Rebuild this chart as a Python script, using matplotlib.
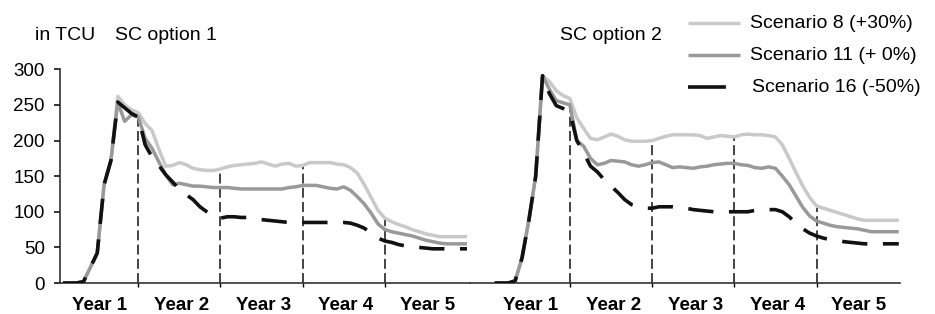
import matplotlib
matplotlib.use("Agg")
import matplotlib.pyplot as plt
from matplotlib.lines import Line2D
import numpy as np

plt.rcParams['font.family'] = ['Liberation Sans', 'DejaVu Sans']

months = list(range(1, 61))
year_labels = ["Year 1", "Year 2", "Year 3", "Year 4", "Year 5"]
y_ticks = [0, 50, 100, 150, 200, 250, 300]
series_names = ["Scenario 8 (+30%)", "Scenario 11 (+ 0%)", "Scenario 16 (-50%)"]
panel_titles = ["SC option 1", "SC option 2"]
unit_label = "in TCU"

left_s8 = [0, 0, 0, 2, 22, 42, 138, 172, 262, 250,
           243, 239, 224, 214, 188, 164, 165, 169, 166, 161,
           159, 158, 158, 160, 163, 165, 166, 167, 168, 170,
           167, 164, 167, 168, 164, 165, 169, 169, 169, 169,
           167, 166, 162, 154, 138, 120, 102, 91, 86, 82,
           79, 75, 72, 69, 67, 65, 65, 65, 65, 65]
left_s11 = [0, 0, 0, 2, 22, 42, 138, 172, 254, 227,
            236, 233, 203, 189, 170, 152, 138, 140, 138, 136,
            136, 135, 134, 134, 134, 133, 132, 132, 132, 132,
            132, 132, 132, 134, 135, 137, 137, 137, 135, 133,
            132, 135, 130, 121, 111, 98, 83, 75, 72, 70,
            68, 66, 63, 60, 58, 56, 55, 55, 55, 55]
left_s16 = [0, 0, 0, 2, 22, 42, 138, 172, 254, 246,
            238, 233, 194, 177, 165, 152, 142, 131, 124, 117,
            107, 100, 93, 91, 93, 93, 92, 92, 91, 89,
            88, 87, 86, 85, 85, 85, 85, 85, 85, 85,
            85, 85, 84, 81, 77, 70, 63, 59, 57, 54,
            52, 51, 50, 49, 48, 48, 48, 48, 48, 48]

right_s8 = [0, 0, 0, 3, 35, 88, 150, 291, 283, 270,
            263, 259, 232, 217, 203, 201, 205, 209, 206, 201,
            199, 199, 199, 200, 203, 206, 208, 208, 208, 208,
            207, 203, 205, 207, 206, 205, 208, 209, 208, 208,
            207, 205, 194, 175, 155, 136, 120, 108, 105, 102,
            99, 96, 93, 90, 88, 88, 88, 88, 88, 88]
right_s11 = [0, 0, 0, 3, 35, 88, 150, 291, 272, 256,
             253, 250, 200, 192, 175, 166, 168, 172, 171, 170,
             166, 164, 166, 169, 170, 166, 162, 163, 162, 161,
             163, 164, 166, 167, 168, 168, 166, 165, 162, 161,
             163, 161, 150, 138, 122, 106, 94, 87, 84, 81,
             79, 78, 77, 76, 74, 72, 72, 72, 72, 72]
right_s16 = [0, 0, 0, 3, 35, 88, 150, 291, 266, 249,
             245, 240, 200, 183, 164, 156, 145, 136, 127, 117,
             110, 107, 105, 105, 107, 107, 107, 106, 105, 103,
             102, 101, 100, 100, 100, 100, 100, 100, 102, 103,
             103, 103, 100, 93, 84, 76, 70, 66, 63, 61,
             60, 58, 57, 56, 55, 55, 55, 55, 55, 55]

divider_months = [12, 24, 36, 48]
year_centers = [6.3, 18.3, 30.3, 42.3, 54.2]

W, H = 935, 314
fig = plt.figure(figsize=(W / 100, H / 100), dpi=100)

def fx(px):
    return px / W

def fy(py):
    return 1 - py / H

y0, y300 = 283.0, 69.3
axL = fig.add_axes([fx(60), fy(y0), fx(470 - 60), (y0 - y300) / H])
axR = fig.add_axes([fx(470), fy(y0), fx(900 - 470), (y0 - y300) / H])

colors = ["#c9c9c9", "#999999", "#111111"]
styles = ["-", "-", (0, (7, 4.3))]
lws = [2.5, 2.5, 2.6]

for ax, data, xl in [(axL, [left_s8, left_s11, left_s16], (0.562, 60.44)),
                     (axR, [right_s8, right_s11, right_s16], (-2.59, 60.18))]:
    for k in range(3):
        ax.plot(months, data[k], color=colors[k], linestyle=styles[k],
                lw=lws[k], zorder=3 + k, solid_capstyle='butt',
                dash_capstyle='butt')
    tops = [max(d[m - 1] for d in data) for m in divider_months]
    ax.vlines(divider_months, 0, tops, colors="#111111", lw=1.1,
              linestyles=[(0, (6.5, 2.8))], zorder=2)
    ax.set_xlim(*xl)
    ax.set_ylim(0, 300)
    ax.set_xticks(year_centers)
    ax.set_xticklabels(year_labels, fontsize=13.5, fontweight='bold')
    ax.set_xticks(divider_months, minor=True)
    ax.tick_params(axis='x', which='major', length=0, pad=10)
    ax.tick_params(axis='x', which='minor', length=3, width=1, direction='out')
    for s in ["top", "right"]:
        ax.spines[s].set_visible(False)
    ax.spines["bottom"].set_color("#333333")
    ax.spines["bottom"].set_linewidth(1.2)
    ax.patch.set_alpha(0)

axL.set_yticks(y_ticks)
axL.set_yticklabels([str(v) for v in y_ticks], fontsize=13.5)
axL.tick_params(axis='y', length=4, width=1.1, pad=7)
axL.spines["left"].set_color("#222222")
axL.spines["left"].set_linewidth(1.1)

axR.spines["left"].set_visible(False)
axR.set_yticks([])

fig.text(fx(35), fy(36), unit_label, fontsize=14, va='center', ha='left')
fig.text(fx(115), fy(36), panel_titles[0], fontsize=14, va='center', ha='left')
fig.text(fx(560), fy(36), panel_titles[1], fontsize=14, va='center', ha='left')

leg_y = [23, 55, 87]
for k in range(3):
    ls = '-' if k < 2 else (0, (10.5, 4.7))
    fig.add_artist(Line2D([fx(688), fx(740)], [fy(leg_y[k]), fy(leg_y[k])],
                          color=colors[k], lw=lws[k], linestyle=ls,
                          solid_capstyle='butt', dash_capstyle='butt'))
    fig.text(fx(750 if k < 2 else 752), fy(leg_y[k] + 1), series_names[k],
             fontsize=14, va='center', ha='left')

fig.savefig("out.png", dpi=100)
